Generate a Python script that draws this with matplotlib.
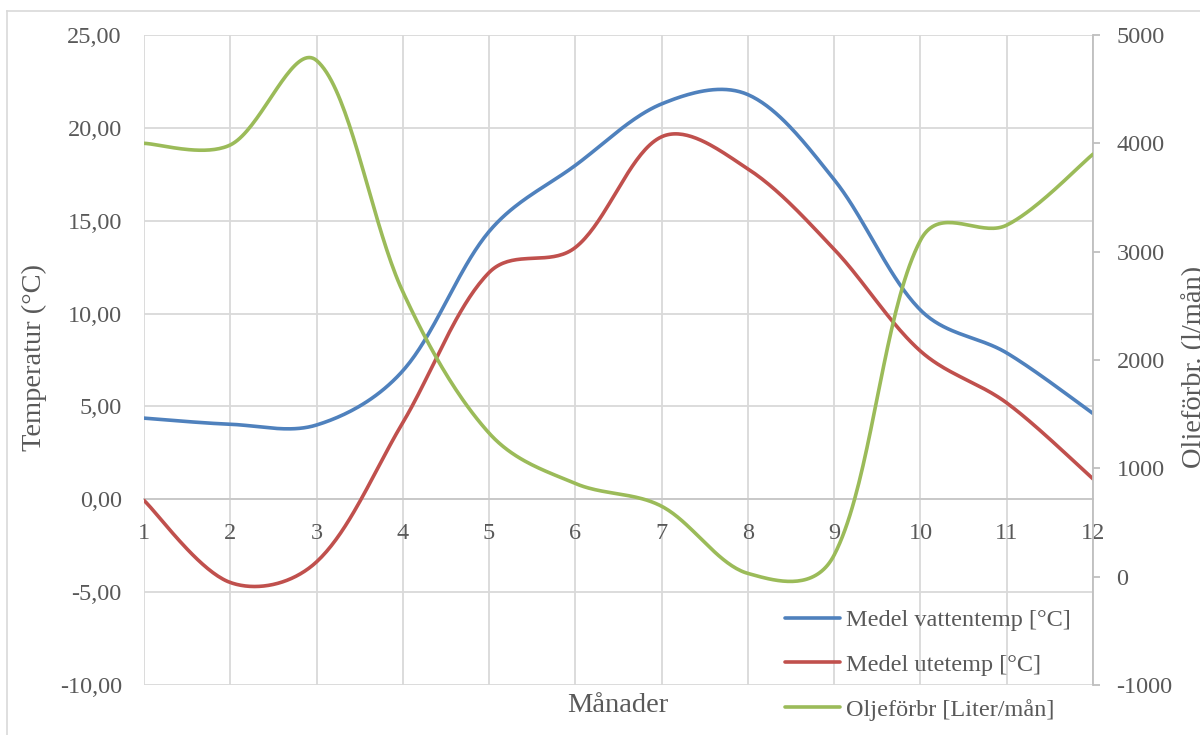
import numpy as np
import matplotlib
matplotlib.use("Agg")
import matplotlib.pyplot as plt
from matplotlib.ticker import FuncFormatter, MultipleLocator
from matplotlib.lines import Line2D

# Monthly averages
months = [1, 2, 3, 4, 5, 6, 7, 8, 9, 10, 11, 12]
vattentemp = [4.37, 4.04, 4.00, 6.92, 14.42, 17.98, 21.29, 21.79, 17.21, 10.19, 7.88, 4.62]
utetemp = [-0.06, -4.48, -3.37, 4.13, 12.21, 13.56, 19.52, 17.79, 13.46, 7.98, 5.19, 1.10]
oljeforbr = [4000, 3985, 4765, 2630, 1325, 860, 650, 30, 200, 3105, 3245, 3900]

labels = ["Medel vattentemp [°C]", "Medel utetemp [°C]", "Oljeförbr [Liter/mån]"]
colors = ["#4F81BD", "#C0504D", "#9BBB59"]

TEXT = "#595959"
GRID = "#D9D9D9"
FONT = "Liberation Serif"
FS = 17.5
FS_TITLE = 20.5

plt.rcParams["font.family"] = [FONT, "DejaVu Serif"]

W, H = 1200, 735
AX_LEFT, AX_RIGHT, AX_TOP, AX_BOTTOM = 144, 1093, 35, 685


def smooth(x, y, sx, sy, n=40):
    """Smoothed line: cubic Bezier segments whose control arms are weighted
    by the neighbouring chord lengths, measured in screen units."""
    p = np.column_stack([np.asarray(x, float) * sx, np.asarray(y, float) * sy])
    m = len(p)
    t = np.linspace(0, 1, n)[:, None]
    out = []

    def arm(i, toward):
        # control arm leaving point i toward neighbour `toward`
        if i == 0 or i == m - 1:
            return (p[toward] - p[i]) / 6.0
        tang = p[i + 1] - p[i - 1]
        d_prev = np.sqrt(np.linalg.norm(p[i] - p[i - 1]))
        d_next = np.sqrt(np.linalg.norm(p[i + 1] - p[i]))
        if toward > i:
            return tang * d_next / (d_prev + d_next) / 3.0
        return -tang * d_prev / (d_prev + d_next) / 3.0

    for i in range(m - 1):
        p1, p2 = p[i], p[i + 1]
        c1 = p1 + arm(i, i + 1)
        c2 = p2 + arm(i + 1, i)
        seg = ((1 - t) ** 3) * p1 + 3 * ((1 - t) ** 2) * t * c1 + 3 * (1 - t) * t ** 2 * c2 + t ** 3 * p2
        out.append(seg if i == 0 else seg[1:])
    s = np.vstack(out)
    return s[:, 0] / sx, s[:, 1] / sy


fig = plt.figure(figsize=(12, 7.35), dpi=100)
ax = fig.add_axes([AX_LEFT / W, 1 - AX_BOTTOM / H, (AX_RIGHT - AX_LEFT) / W, (AX_BOTTOM - AX_TOP) / H])
ax2 = ax.twinx()

# Chart frame
fig.add_artist(Line2D([7 / W, 1.0], [1 - 11 / H, 1 - 11 / H], transform=fig.transFigure, color=GRID, lw=1.2))
fig.add_artist(Line2D([7 / W, 7 / W], [1 - 11 / H, 0.0], transform=fig.transFigure, color=GRID, lw=1.2))

xlim = (1, 12)
ylim = (-10, 25)
ylim2 = (-1000, 5000)
sx = (AX_RIGHT - AX_LEFT) / (xlim[1] - xlim[0])
sy = (AX_BOTTOM - AX_TOP) / (ylim[1] - ylim[0])
sy2 = (AX_BOTTOM - AX_TOP) / (ylim2[1] - ylim2[0])

lw = 2.6
xs, ys = smooth(months, vattentemp, sx, sy)
l1, = ax.plot(xs, ys, color=colors[0], lw=lw, solid_capstyle="round", zorder=3)
xs, ys = smooth(months, utetemp, sx, sy)
l2, = ax.plot(xs, ys, color=colors[1], lw=lw, solid_capstyle="round", zorder=3)
xs, ys = smooth(months, oljeforbr, sx, sy2)
l3, = ax2.plot(xs, ys, color=colors[2], lw=lw, solid_capstyle="round", zorder=3)

ax.set_xlim(*xlim)
ax.set_ylim(*ylim)
ax2.set_ylim(*ylim2)

ax.yaxis.set_major_locator(MultipleLocator(5))
ax.yaxis.set_major_formatter(FuncFormatter(lambda v, p: f"{v:.2f}".replace(".", ",")))
ax2.yaxis.set_major_locator(MultipleLocator(1000))
ax2.yaxis.set_major_formatter(FuncFormatter(lambda v, p: f"{v:.0f}"))
ax.set_xticks(months)

ax.grid(True, color=GRID, lw=1.3)
ax.set_axisbelow(True)

for s in ["top", "left", "right"]:
    ax.spines[s].set_visible(False)
ax.spines["bottom"].set_position(("data", 0))
ax.spines["bottom"].set_color("#C8C8C8")
ax.spines["bottom"].set_linewidth(1.3)
for s in ["top", "left", "bottom"]:
    ax2.spines[s].set_visible(False)
ax2.spines["right"].set_color("#BFBFBF")
ax2.spines["right"].set_linewidth(1.3)

ax.tick_params(axis="y", length=0, pad=16, labelsize=FS, labelcolor=TEXT)
ax.tick_params(axis="x", length=0, pad=17, labelsize=FS, labelcolor=TEXT)
ax2.tick_params(axis="y", length=5, width=1.3, color="#BFBFBF", pad=12, labelsize=FS, labelcolor=TEXT)

fig.text(34 / W, 1 - 358 / H, "Temperatur (°C)", rotation=90, ha="center", va="center",
         fontsize=FS_TITLE, color=TEXT)
fig.text(1181 / W, 1 - 367 / H, "Oljeförbr. (l/mån)", rotation=90, ha="left", va="center",
         fontsize=FS_TITLE, color=TEXT)
fig.text(618 / W, 1 - 706 / H, "Månader", ha="center", va="center", fontsize=FS_TITLE, color=TEXT)

leg = ax2.legend([l1, l2, l3], labels, loc="upper left",
                 bbox_to_anchor=(785 / W, 1 - 609 / H), bbox_transform=fig.transFigure,
                 frameon=False, fontsize=FS, handlelength=2.25, handletextpad=0.25,
                 labelspacing=0.94, borderpad=0, borderaxespad=0)
for t in leg.get_texts():
    t.set_color(TEXT)

fig.savefig("out.png", dpi=100, facecolor="white")
